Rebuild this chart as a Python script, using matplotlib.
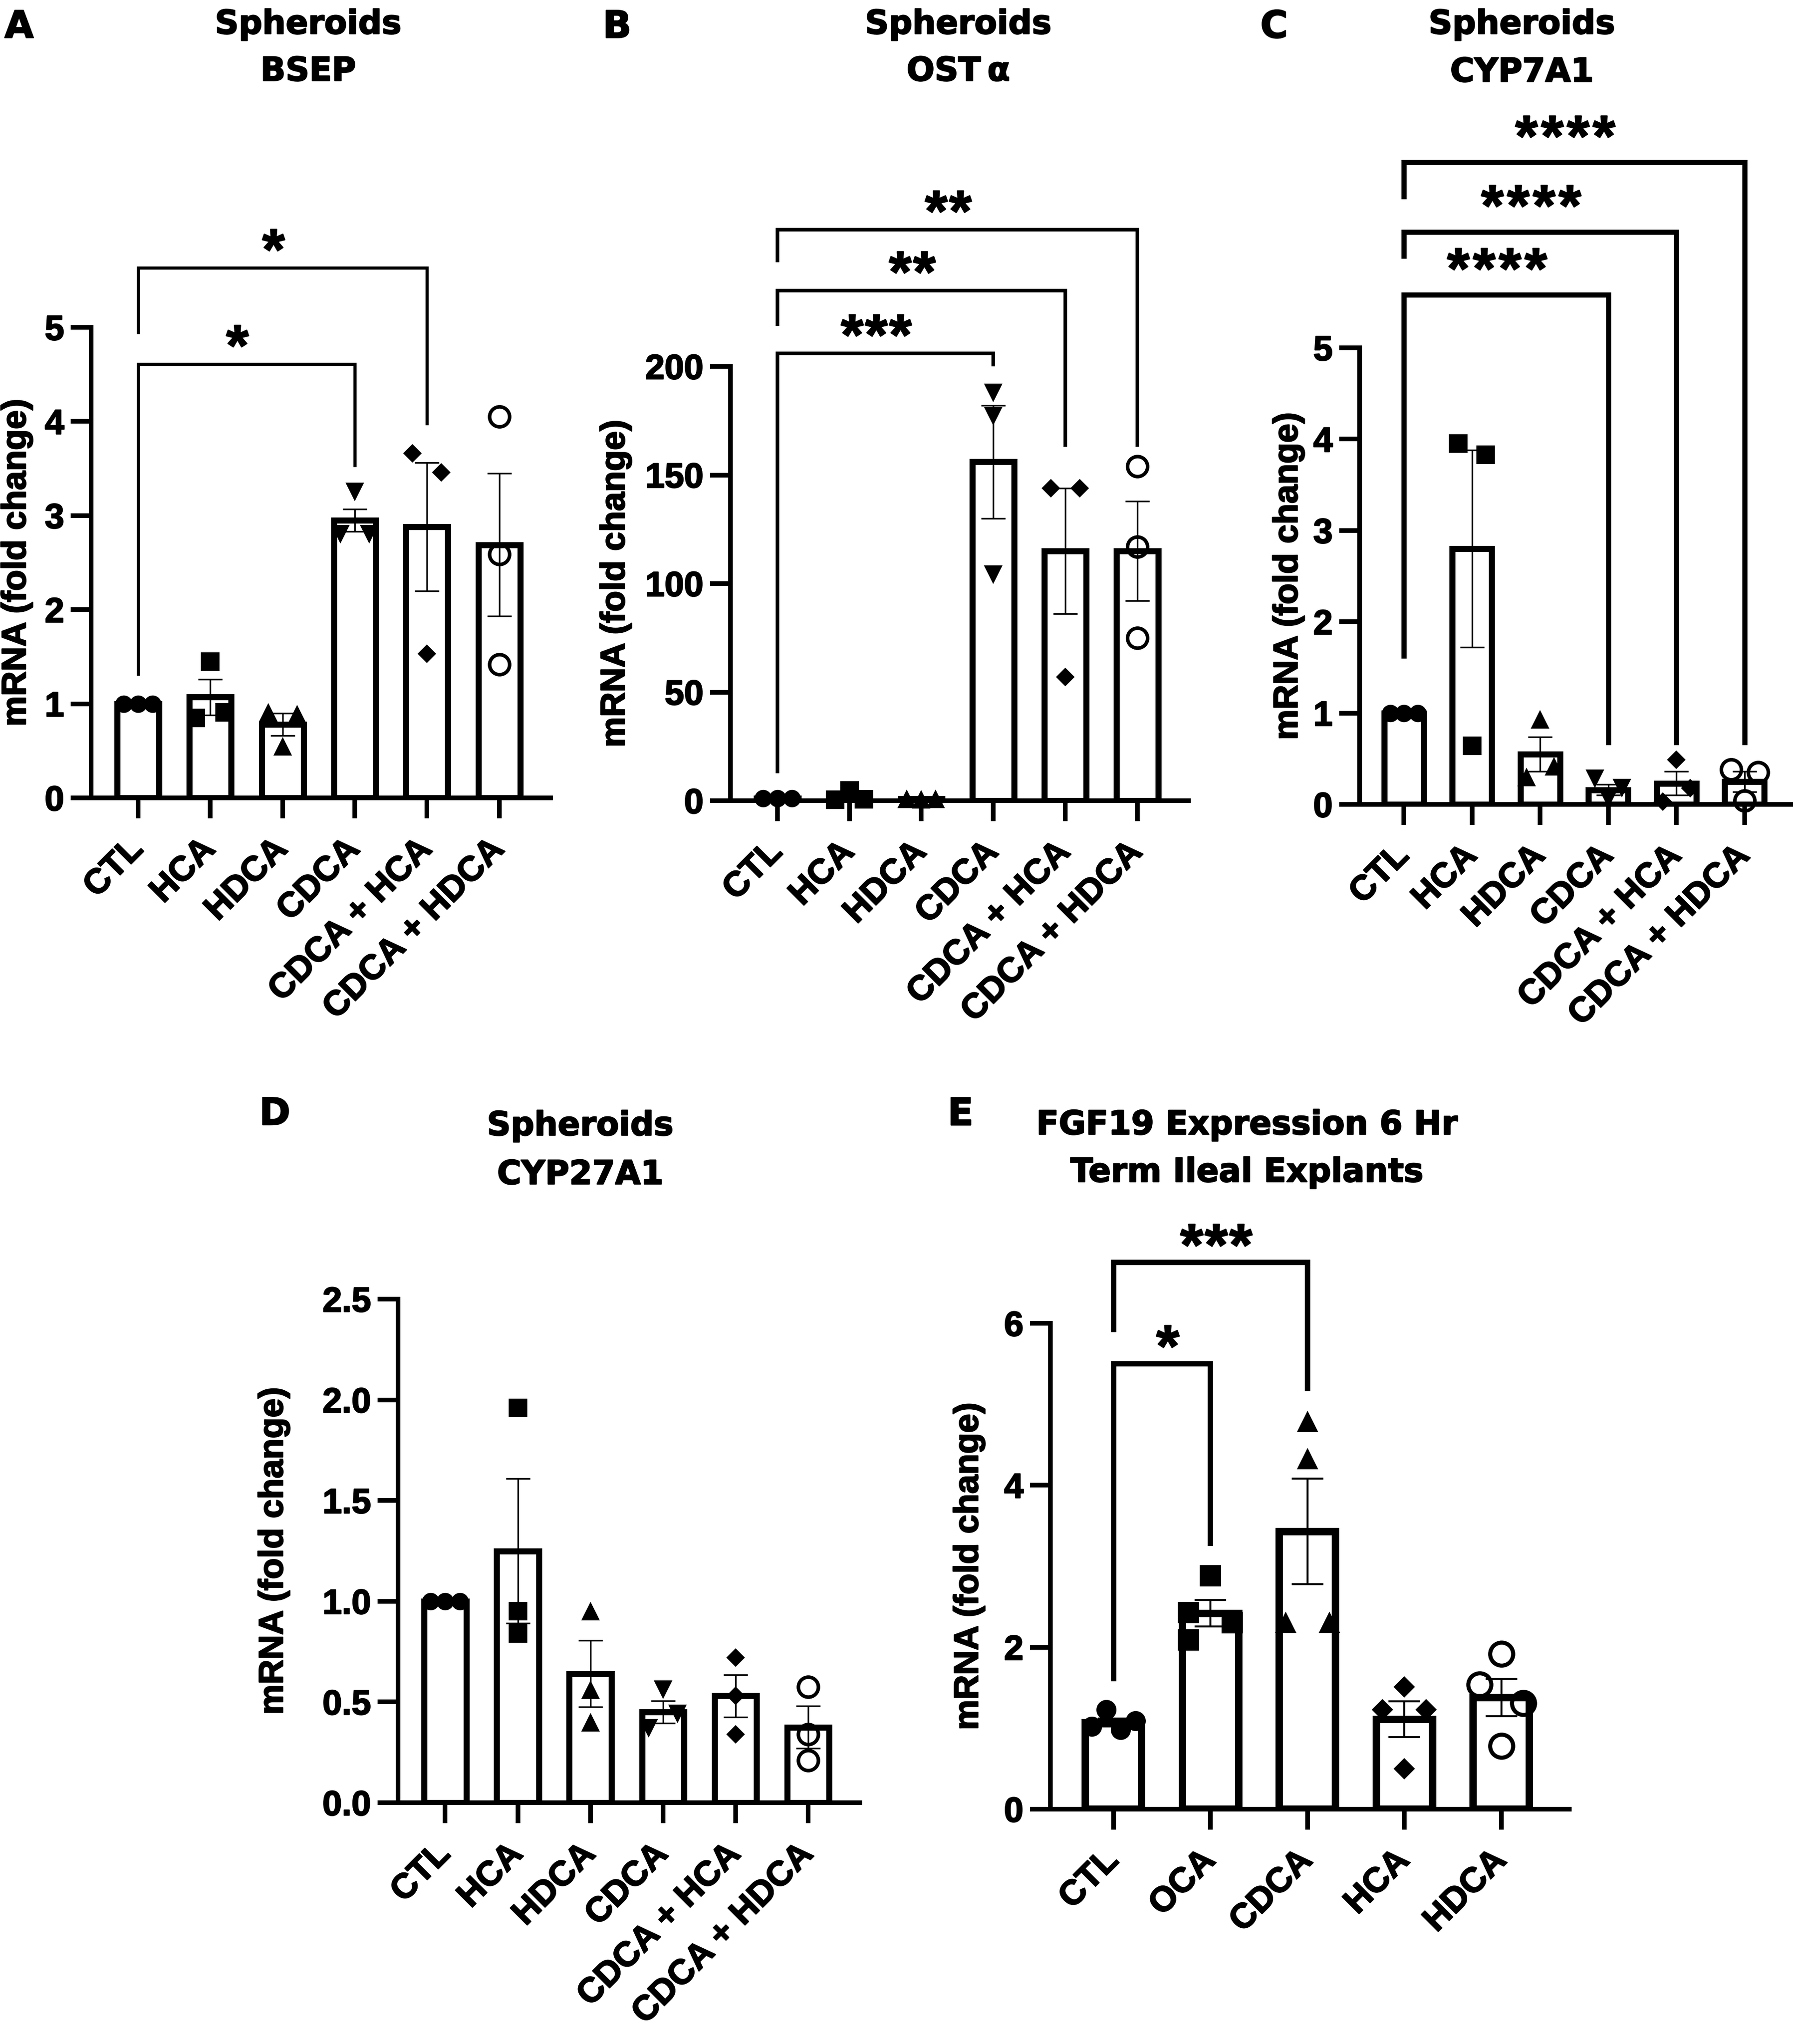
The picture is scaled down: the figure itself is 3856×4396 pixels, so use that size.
import matplotlib
matplotlib.use('Agg')
import matplotlib.pyplot as plt
import matplotlib.patheffects as pe

W, H = 3856, 4396
ARIAL = 'Liberation Sans'
HEAVY = [pe.withStroke(linewidth=1.8, foreground='black')]

spher_groups = ['CTL', 'HCA', 'HDCA', 'CDCA', 'CDCA + HCA', 'CDCA + HDCA']
ileal_groups = ['CTL', 'OCA', 'CDCA', 'HCA', 'HDCA']

# A - BSEP
bsep_mean = [1.0, 1.07, 0.78, 2.95, 2.88, 2.69]
bsep_sem = [0.0, 0.19, 0.12, 0.12, 0.68, 0.76]
bsep_pts = [[1.0, 1.0, 1.0], [1.45, 0.85, 0.91], [0.91, 0.89, 0.55],
            [3.25, 2.80, 2.80], [3.66, 3.46, 1.53], [4.05, 2.59, 1.42]]
bsep_yticks = [0, 1, 2, 3, 4, 5]

# B - OST alpha
osta_mean = [1.0, 1.9, 0.8, 156.0, 115.0, 115.0]
osta_sem = [0.0, 1.4, 0.1, 26.0, 29.0, 23.0]
osta_pts = [[1.0, 1.0, 1.0], [4.7, 0.5, 0.6], [0.8, 0.7, 0.9],
            [187.8, 177.0, 104.0], [144.0, 144.0, 57.0], [154.0, 117.0, 75.0]]
osta_yticks = [0, 50, 100, 150, 200]

# C - CYP7A1
cyp7_mean = [1.0, 2.8, 0.55, 0.16, 0.23, 0.25]
cyp7_sem = [0.0, 1.08, 0.19, 0.06, 0.13, 0.11]
cyp7_pts = [[1.0, 1.0, 1.0], [3.95, 3.83, 0.64], [0.93, 0.30, 0.42],
            [0.28, 0.18, 0.06], [0.49, 0.18, 0.03], [0.38, 0.35, 0.04]]
cyp7_yticks = [0, 1, 2, 3, 4, 5]

# D - CYP27A1
cyp27_mean = [1.0, 1.25, 0.64, 0.45, 0.53, 0.375]
cyp27_sem = [0.0, 0.36, 0.165, 0.055, 0.105, 0.105]
cyp27_pts = [[1.0, 1.0, 1.0], [1.96, 0.95, 0.84], [0.95, 0.56, 0.40],
             [0.56, 0.44, 0.37], [0.72, 0.53, 0.34], [0.575, 0.34, 0.21]]
cyp27_yticks = [0.0, 0.5, 1.0, 1.5, 2.0, 2.5]
cyp27_yticklabels = ['0.0', '0.5', '1.0', '1.5', '2.0', '2.5']

# E - FGF19, ileal explants
fgf_mean = [1.07, 2.42, 3.43, 1.11, 1.38]
fgf_sem = [0.05, 0.165, 0.65, 0.22, 0.23]
fgf_pts = [[1.23, 1.02, 0.98, 1.09], [2.88, 2.43, 2.30, 2.09], [4.79, 4.33, 2.31, 2.31],
           [1.51, 1.23, 1.23, 0.50], [1.92, 1.54, 1.31, 0.78]]
fgf_yticks = [0, 2, 4, 6]

# significance: (group i, group j, label)
bsep_sig = [(0, 3, '*'), (0, 4, '*')]
osta_sig = [(0, 3, '***'), (0, 4, '**'), (0, 5, '**')]
cyp7_sig = [(0, 3, '****'), (0, 4, '****'), (0, 5, '****')]
fgf_sig = [(0, 1, '*'), (0, 2, '***')]

# bracket geometry: (top, left leg end, right leg end) in data units
bsep_br = [(4.61, 1.30, 3.52), (5.63, 4.93, 3.96)]
osta_br = [(206, 12.7, 200), (235, 218.6, 163), (263, 248, 163)]
cyp7_br = [(5.58, 1.60, 0.65), (6.27, 5.98, 0.65), (7.03, 6.63, 0.65)]
fgf_br = [(5.50, 1.58, 3.25), (6.75, 5.89, 5.16)]

# horizontal spread of the dots inside each bar
bsep_spread = [[-1, 0, 1], [0, -1, 1], [-1, 1, 0], [0, -1, 1], [-1, 1, 0], [0, 0, 0]]
osta_spread = [[-1, 0, 1], [0, -1, 1], [-1, 0, 1], [0, 0, 0], [-1, 1, 0], [0, 0, 0]]
cyp7_spread = [[-1, 0, 1], [-1, 1, 0], [0, -1, 1], [-1, 1, 0], [0, 1, -1], [-1, 1, 0]]
cyp27_spread = [[-1, 0, 1], [0, 0, 0], [0, 0, 0], [0, 1, -1], [0, 0, 0], [0, 0, 0]]
fgf_spread = [[-0.5, -1.5, 0.5, 1.5], [0, -1.5, 1.5, -1.5], [0, 0, -1.5, 1.5],
              [0, -1.5, 1.5, 0], [0, -1.5, 1.5, 0]]

spher_marks = [('o', True), ('s', True), ('^', True), ('v', True), ('D', True), ('o', False)]
ileal_marks = [('o', True), ('s', True), ('^', True), ('D', True), ('o', False)]
MS = {'o': 27, 's': 29, '^': 29, 'v': 29, 'D': 20}

base = dict(bar_lw=9.4, err_lw=2.5, cap=18.4, br_lw=4.8, ms=1.0, step=0.2,
            star_pitch=37.4, star_dx=-14, star_dy=-2, star_fs=90, xmax=5.71)
st_a = dict(base)
st_b = dict(base, br_lw=5.5)
st_c = dict(base, br_lw=8.0, star_pitch=40, star_dy=10)
st_d = dict(base)
st_e = dict(base, bar_lw=11.5, err_lw=3.1, cap=24.5, br_lw=8.3, ms=1.15, step=0.15,
            star_pitch=38, star_dx=9, star_dy=-4, star_fs=92, xmax=4.70)

fig = plt.figure(figsize=(W / 100, H / 100), dpi=100)
fig.patch.set_facecolor('white')


def panel(rect, groups, mean, sem, pts, spread, marks, ymax, yticks, ytl,
          sig, br, st, ylab_px):
    l, r, t, b = rect
    ax = fig.add_axes([l / W, 1 - b / H, (r - l) / W, (b - t) / H])
    x = list(range(len(groups)))
    ax.bar(x, mean, width=0.58, color='white', edgecolor='black',
           linewidth=st['bar_lw'], zorder=2)
    for i, vals in enumerate(pts):
        m, filled = marks[i]
        xs = [i + s * st['step'] for s in spread[i]]
        if filled:
            ax.plot(xs, vals, ls='none', marker=m, ms=MS[m] * st['ms'], mfc='black',
                    mec='black', mew=0, zorder=3, clip_on=False)
        else:
            ax.plot(xs, vals, ls='none', marker='o', ms=31 * st['ms'], mfc='none',
                    mec='black', mew=5.5 * st['ms'], zorder=3, clip_on=False)
    ax.errorbar(x, mean, yerr=sem, fmt='none', ecolor='black', elinewidth=st['err_lw'],
                capsize=st['cap'], capthick=st['err_lw'], zorder=4)

    for (i, j, lab), (ytop, yl, yr) in zip(sig, br):
        ax.plot([i, i, j, j], [yl, ytop, ytop, yr], color='black', lw=st['br_lw'],
                clip_on=False, solid_joinstyle='miter', solid_capstyle='butt', zorder=5)
        n = len(lab)
        for k in range(n):
            dx = (k - (n - 1) / 2) * st['star_pitch'] + st['star_dx']
            ax.annotate('*', xy=((i + j) / 2, ytop), xytext=(dx, st['star_dy']),
                        textcoords='offset points', ha='center', va='baseline',
                        fontsize=st['star_fs'], fontweight='bold', family=ARIAL,
                        annotation_clip=False, path_effects=HEAVY)

    ax.set_xlim(-0.65, st['xmax'])
    ax.set_ylim(0, ymax)
    for s in ['top', 'right']:
        ax.spines[s].set_visible(False)
    for s in ['left', 'bottom']:
        ax.spines[s].set_linewidth(7.2)
    ax.tick_params(axis='both', length=31.7, width=7.2, direction='out')
    ax.tick_params(axis='y', pad=10)
    ax.tick_params(axis='x', pad=40)
    ax.set_yticks(yticks)
    ax.set_yticklabels(ytl, fontsize=54, fontweight='bold', family=ARIAL)
    ax.set_xticks(x)
    ax.set_xticklabels(groups, rotation=45, ha='right', va='center',
                       rotation_mode='anchor', fontsize=54, fontweight='bold',
                       family=ARIAL)
    for lab in ax.get_xticklabels() + ax.get_yticklabels():
        lab.set_path_effects(HEAVY)
    ax.set_ylabel('mRNA (fold change)', fontsize=53, fontweight='bold', family=ARIAL,
                  path_effects=HEAVY)
    ax.yaxis.set_label_coords(ylab_px / (r - l), 0.5)
    return ax


def title(xc, y1, y2, lines, letter, lx, ly):
    for y, s in zip((y1, y2), lines):
        fig.text(xc / W, 1 - y / H, s, ha='center', va='center', fontsize=51,
                 fontweight='bold', family='DejaVu Sans', path_effects=HEAVY)
    fig.text(lx / W, 1 - ly / H, letter, ha='center', va='center', fontsize=58,
             fontweight='bold', family='DejaVu Sans', path_effects=HEAVY)


panel((196, 1184, 704, 1716), spher_groups, bsep_mean, bsep_sem, bsep_pts, bsep_spread,
      spher_marks, 5, bsep_yticks, [str(v) for v in bsep_yticks], bsep_sig, bsep_br,
      st_a, -126)
panel((1571, 2556, 788, 1722), spher_groups, osta_mean, osta_sem, osta_pts, osta_spread,
      spher_marks, 200, osta_yticks, [str(v) for v in osta_yticks], osta_sig, osta_br,
      st_b, -213)
panel((2924, 3856, 748, 1730), spher_groups, cyp7_mean, cyp7_sem, cyp7_pts, cyp7_spread,
      spher_marks, 5, cyp7_yticks, [str(v) for v in cyp7_yticks], cyp7_sig, cyp7_br,
      st_c, -119)
panel((856, 1849, 2794, 3877), spher_groups, cyp27_mean, cyp27_sem, cyp27_pts,
      cyp27_spread, spher_marks, 2.5, cyp27_yticks, cyp27_yticklabels, [], [],
      st_d, -233)
panel((2259, 3375, 2846, 3891), ileal_groups, fgf_mean, fgf_sem, fgf_pts, fgf_spread,
      ileal_marks, 6, fgf_yticks, [str(v) for v in fgf_yticks], fgf_sig, fgf_br,
      st_e, -141)

title(663, 53, 154, ['Spheroids', 'BSEP'], 'A', 41, 59)
title(2061, 53, 154, ['Spheroids', 'OST\u2009\u03b1'], 'B', 1327, 59)
title(3273, 53, 156, ['Spheroids', 'CYP7A1'], 'C', 2740, 59)
title(1248, 2422, 2527, ['Spheroids', 'CYP27A1'], 'D', 591, 2397)
title(2682, 2420, 2522, ['FGF19 Expression 6 Hr', 'Term Ileal Explants'], 'E', 2065, 2397)

fig.savefig('out.png', dpi=100, facecolor='white')
